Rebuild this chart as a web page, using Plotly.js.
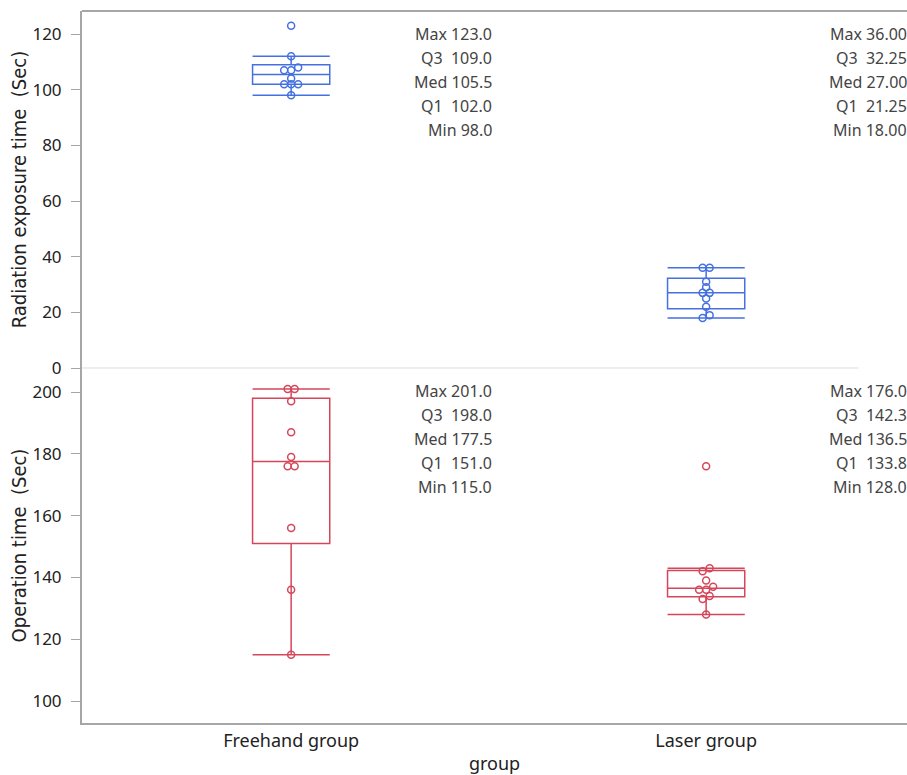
<!DOCTYPE html>
<html>
<head>
<meta charset="utf-8">
<script src="https://cdn.plot.ly/plotly-3.0.1.min.js"></script>
<style>html,body{margin:0;padding:0;background:#fff;}#chart{width:907px;height:775px;}</style>
</head>
<body>
<div id="chart"></div>
<script>
// ---- data ----
const categories = ["Freehand group", "Laser group"];
const radiationFreehand = [98, 102, 102, 102, 104, 107, 107, 108, 112, 123];
const radiationLaser = [18, 19, 22, 25, 27, 27, 29, 31, 36, 36];
const operationFreehand = [115, 136, 156, 176, 176, 179, 187, 197, 201, 201];
const operationLaser = [128, 133, 134, 136, 136, 137, 139, 142, 143, 176];
const radiationDecimals = [1, 2];
const operationDecimals = [1, 1];
const statLabels = ["Max", "Q3\u00a0", "Med", "Q1\u00a0", "Min"];
const radiationTitle = "Radiation exposure time \u00a0(Sec)";
const operationTitle = "Operation time \u00a0(Sec)";
const xTitle = "group";
const radTicks = [0, 20, 40, 60, 80, 100, 120];
const opTicks = [100, 120, 140, 160, 180, 200];

// ---- layout constants ----
const W = 907, H = 775;
const M = {l: 82, r: 0, t: 11, b: 52};
const plotW = W - M.l - M.r, plotH = H - M.t - M.b;
const xRange = [-0.504, 1.484];
const split = 0.4986;
const radRange = [0, 128.3];
const opRange = [92.9, 207.8];
const blue = "#4470E0", red = "#D6465A";
const font = "'Noto Sans', 'Open Sans', sans-serif";
const condensed = "'Liberation Sans Narrow', 'DejaVu Sans Condensed', sans-serif";

function quant(sorted, p) {
  const n = sorted.length;
  let pos = (n + 1) * p;
  if (pos < 1) pos = 1; if (pos > n) pos = n;
  const lo = Math.floor(pos), f = pos - lo;
  const a = sorted[lo - 1], b = sorted[Math.min(lo, n - 1)];
  return a + f * (b - a);
}
function stats(arr) {
  const s = arr.slice().sort((a, b) => a - b);
  const q1 = quant(s, 0.25), med = quant(s, 0.5), q3 = quant(s, 0.75);
  const iqr = q3 - q1;
  const uf = Math.max(...s.filter(v => v <= q3 + 1.5 * iqr));
  const lf = Math.min(...s.filter(v => v >= q1 - 1.5 * iqr));
  return {s, min: s[0], max: s[s.length - 1], q1, med, q3, uf, lf};
}
// beeswarm offsets: cluster near-equal values (in pixels) into centered rows
function swarm(sorted, pxPerUnit, center) {
  const xPerPx = (xRange[1] - xRange[0]) / plotW;
  const step = 7 * xPerPx;
  const rows = [];
  let cur = [sorted[0]];
  for (let i = 1; i < sorted.length; i++) {
    if ((sorted[i] - cur[cur.length - 1]) * pxPerUnit < 3.5) cur.push(sorted[i]);
    else { rows.push(cur); cur = [sorted[i]]; }
  }
  rows.push(cur);
  const xs = [], ys = [];
  rows.forEach(r => r.forEach((v, i) => { xs.push(center + (i - (r.length - 1) / 2) * step); ys.push(v); }));
  return {xs, ys};
}

const panels = [
  {data: [radiationFreehand, radiationLaser], dec: radiationDecimals, color: blue, yaxis: "y", range: radRange, frac: 1 - split},
  {data: [operationFreehand, operationLaser], dec: operationDecimals, color: red, yaxis: "y2", range: opRange, frac: split}
];

const traces = [];
const annotations = [];
panels.forEach(p => {
  const pxPerUnit = p.frac * plotH / (p.range[1] - p.range[0]);
  p.data.forEach((arr, g) => {
    const st = stats(arr);
    traces.push({
      type: "box", x: [g], q1: [st.q1], median: [st.med], q3: [st.q3],
      lowerfence: [st.lf], upperfence: [st.uf], width: 0.186, whiskerwidth: 1,
      line: {color: p.color, width: 1.5}, fillcolor: "rgba(0,0,0,0)",
      boxpoints: false, yaxis: p.yaxis, xaxis: "x", hoverinfo: "skip", showlegend: false
    });
    const sw = swarm(st.s, pxPerUnit, g);
    traces.push({
      type: "scatter", mode: "markers", x: sw.xs, y: sw.ys, yaxis: p.yaxis, xaxis: "x",
      marker: {symbol: "circle-open", size: 7, color: p.color, line: {width: 1.5, color: p.color}},
      hoverinfo: "skip", showlegend: false
    });
    const vals = [st.max, st.q3, st.med, st.q1, st.min];
    vals.forEach((v, i) => {
      annotations.push({
        xref: "x", yref: p.yaxis + " domain", x: g + 0.484, y: 1, xshift: 2,
        xanchor: "right", yanchor: "middle", yshift: -(23 + 24 * i),
        text: statLabels[i] + " " + v.toFixed(p.dec[g]), showarrow: false,
        font: {family: font, size: 16, color: "#444"}
      });
    });
  });
});

const axisLine = "#a6a6a6";
const layout = {
  width: W, height: H, margin: M, paper_bgcolor: "#fff", plot_bgcolor: "#fff",
  showlegend: false, font: {family: font, color: "#222"},
  xaxis: {
    range: xRange, tickvals: [0, 1], ticktext: categories, ticks: "", showgrid: false, zeroline: false,
    showline: true, linecolor: axisLine, linewidth: 2, anchor: "y2", ticklabelstandoff: 0,
    tickfont: {family: font, size: 18, color: "#222"},
    title: {text: xTitle, font: {family: font, size: 18, color: "#222"}, standoff: 19}
  },
  yaxis: {
    domain: [split, 1], range: radRange, tickvals: radTicks, ticks: "outside", ticklen: 9, tickcolor: axisLine,
    showgrid: false, zeroline: false, showline: true, linecolor: axisLine, linewidth: 2, ticklabelstandoff: 6,
    tickfont: {family: font, size: 17, color: "#222"},
    title: {text: radiationTitle, font: {family: condensed, size: 20, color: "#222"}, standoff: 0}
  },
  yaxis2: {
    domain: [0, split], range: opRange, tickvals: opTicks, ticks: "outside", ticklen: 9, tickcolor: axisLine,
    showgrid: false, zeroline: false, showline: true, linecolor: axisLine, linewidth: 2, ticklabelstandoff: 6,
    tickfont: {family: font, size: 17, color: "#222"},
    title: {text: operationTitle, font: {family: condensed, size: 20, color: "#222"}, standoff: 0}
  },
  shapes: [
    {type: "line", xref: "paper", yref: "paper", x0: 0, x1: 1, y0: 1, y1: 1, line: {color: axisLine, width: 2}},
    {type: "line", xref: "paper", yref: "paper", x0: 0, x1: 0.941, y0: split, y1: split, line: {color: "#dddddd", width: 1}}
  ],
  annotations: annotations
};

Plotly.newPlot("chart", traces, layout, {staticPlot: true, displayModeBar: false});
</script>
</body>
</html>
